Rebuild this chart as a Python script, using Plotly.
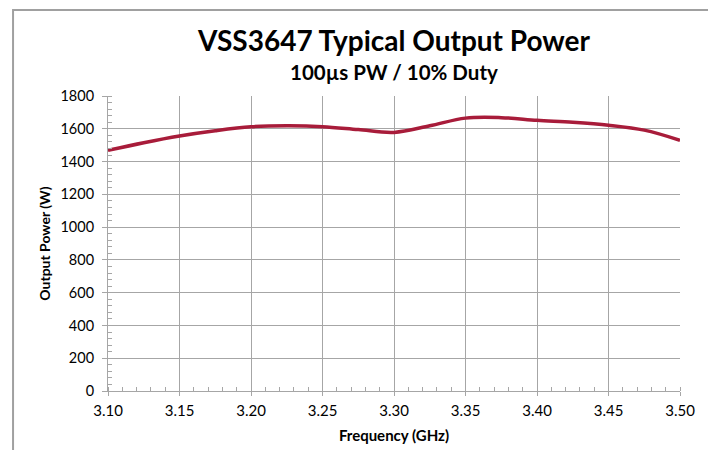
import plotly.graph_objects as go

freq = [3.100, 3.125, 3.150, 3.175, 3.200, 3.225, 3.250, 3.275, 3.300, 3.325,
        3.350, 3.375, 3.400, 3.425, 3.450, 3.475, 3.500]
power = [1468, 1515, 1556, 1588, 1612, 1618, 1613, 1595, 1578, 1618,
         1665, 1668, 1652, 1640, 1622, 1592, 1530]
x_ticks = [3.10, 3.15, 3.20, 3.25, 3.30, 3.35, 3.40, 3.45, 3.50]
x_tick_labels = ["3.10", "3.15", "3.20", "3.25", "3.30", "3.35", "3.40", "3.45", "3.50"]
y_ticks = [0, 200, 400, 600, 800, 1000, 1200, 1400, 1600, 1800]

FONT = "Lato, 'Open Sans', sans-serif"
GRID = "#a6a6a6"

fig = go.Figure()
fig.add_trace(go.Scatter(
    x=freq, y=power, mode="lines",
    line=dict(color="#a81c3a", width=3.5, shape="spline", smoothing=1.0),
    showlegend=False, hoverinfo="skip",
))

fig.update_layout(
    width=716, height=450,
    margin=dict(l=100, r=44, t=88, b=67),
    paper_bgcolor="white", plot_bgcolor="white",
    font=dict(family=FONT, color="#000000"),
    annotations=[
        dict(text="<b>VSS3647 Typical Output Power</b>", xref="paper", yref="paper",
             x=0.5, y=1.19, xanchor="center", yanchor="middle", showarrow=False,
             font=dict(size=28, family=FONT, color="#000000")),
        dict(text="<b>100µs PW / 10% Duty</b>", xref="paper", yref="paper",
             x=0.5, y=1.08, xanchor="center", yanchor="middle", showarrow=False,
             font=dict(size=20.5, family=FONT, color="#000000")),
    ],
    xaxis=dict(
        range=[3.10, 3.50], tickvals=x_ticks, ticktext=x_tick_labels,
        showgrid=True, gridcolor=GRID, gridwidth=1,
        showline=True, linecolor=GRID, linewidth=1,
        ticks="outside", ticklen=4, tickcolor=GRID,
        tickfont=dict(size=15, family=FONT), ticklabelstandoff=2,
        minor=dict(dtick=0.01, ticks="inside", ticklen=4, tickcolor=GRID, showgrid=False),
        title=dict(text="<b>Frequency (GHz)</b>", font=dict(size=15, family=FONT), standoff=12),
        zeroline=False, fixedrange=True,
    ),
    yaxis=dict(
        range=[0, 1800], tickvals=y_ticks,
        showgrid=True, gridcolor=GRID, gridwidth=1,
        showline=True, linecolor=GRID, linewidth=1,
        ticks="outside", ticklen=5, tickcolor=GRID,
        tickfont=dict(size=14.5, family=FONT), ticklabelstandoff=5,
        minor=dict(dtick=40, ticks="inside", ticklen=4, tickcolor=GRID, showgrid=False),
        title=dict(text="<b>Output Power (W)</b>", font=dict(size=14, family=FONT), standoff=6),
        zeroline=False, fixedrange=True,
    ),
    shapes=[dict(
        type="rect", xref="paper", yref="paper",
        x0=-0.166, x1=1.0507, y0=-0.3, y1=1.2915,
        line=dict(color="#a0a0a0", width=2), fillcolor="rgba(0,0,0,0)", layer="below",
    )],
)

fig.write_html("out.html")
